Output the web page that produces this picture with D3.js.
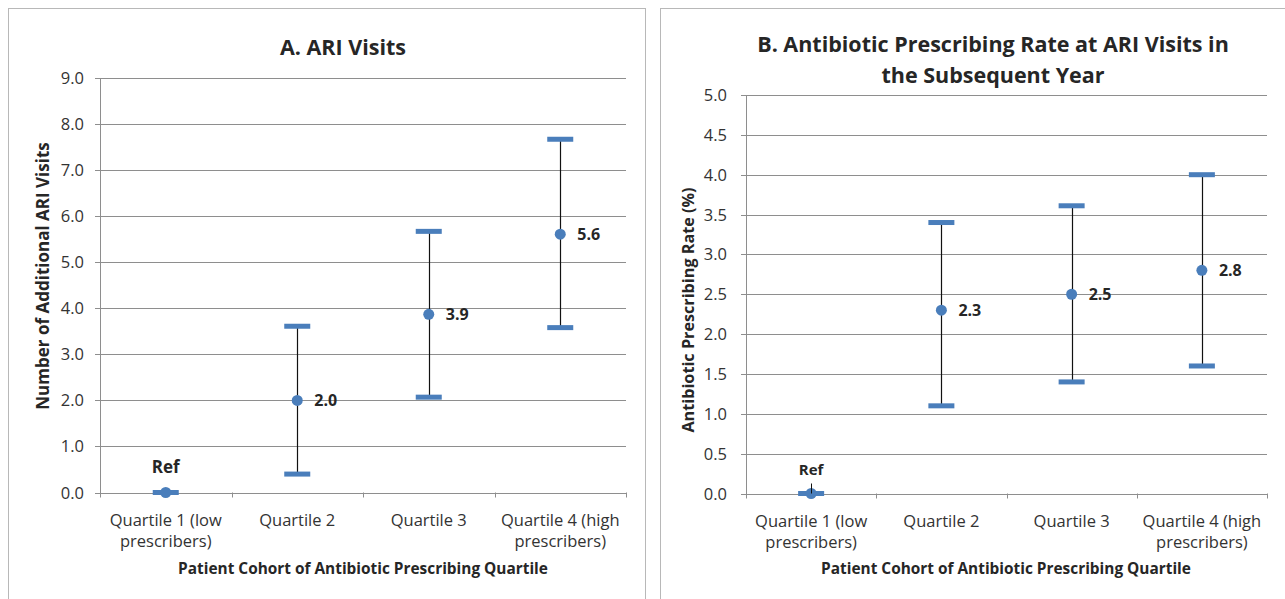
<!DOCTYPE html>
<html>
<head>
<meta charset="utf-8">
<script src="https://cdn.jsdelivr.net/npm/d3@7"></script>
<style>
  body { margin: 0; background: #fff; }
  svg text { font-family: "Open Sans", sans-serif; fill: #262626; }
</style>
</head>
<body>
<svg id="chart" width="1285" height="599"></svg>
<script>
// quartile categories (tick labels broken in two lines like the original)
var categoryLines = [
    ["Quartile 1 (low", "prescribers)"],
    ["Quartile 2"],
    ["Quartile 3"],
    ["Quartile 4 (high", "prescribers)"]
];
var categories = ["Q1", "Q2", "Q3", "Q4"];

// A. additional ARI visits
var visitsEst = [0, 2.0, 3.87, 5.61],
    visitsLow = [0, 0.4, 2.07, 3.58],
    visitsHigh = [0, 3.61, 5.67, 7.67],
    visitsLabels = ["Ref", "2.0", "3.9", "5.6"],
    visitsTicks = [0, 1, 2, 3, 4, 5, 6, 7, 8, 9];

// B. antibiotic prescribing rate (%)
var rateEst = [0, 2.3, 2.5, 2.8],
    rateLow = [0, 1.1, 1.4, 1.6],
    rateHigh = [0, 3.4, 3.61, 4.0],
    rateLabels = ["Ref", "2.3", "2.5", "2.8"],
    rateTicks = [0, 0.5, 1, 1.5, 2, 2.5, 3, 3.5, 4, 4.5, 5];

var blue = "#4a7ebb",
    gridColor = "#8e8e8e";

var svg = d3.select("#chart");

function drawPanel(opts) {
    var g = svg.append("g");

    // panel frame
    g.append("rect")
        .attr("x", opts.frame[0] + 0.5)
        .attr("y", opts.frame[1] + 0.5)
        .attr("width", opts.frame[2])
        .attr("height", 700)
        .attr("fill", "none")
        .attr("stroke", "#b8b8b8");

    var x = d3.scaleBand()
        .domain(categories)
        .range([opts.left, opts.right]);

    var y = d3.scaleLinear()
        .domain([0, opts.max])
        .range([opts.bottom, opts.top]);

    // grid lines
    g.append("g")
        .selectAll("line")
        .data(opts.ticks)
        .enter()
        .append("line")
            .attr("x1", opts.left - 5)
            .attr("x2", opts.right)
            .attr("y1", function(d) { return Math.round(y(d)) + 0.5; })
            .attr("y2", function(d) { return Math.round(y(d)) + 0.5; })
            .attr("stroke", gridColor);

    // y axis line
    g.append("line")
        .attr("x1", opts.left + 0.5).attr("x2", opts.left + 0.5)
        .attr("y1", opts.top).attr("y2", opts.bottom + 5)
        .attr("stroke", gridColor);

    // y tick labels
    g.append("g")
        .selectAll("text")
        .data(opts.ticks)
        .enter()
        .append("text")
            .attr("x", opts.left - opts.tickGap)
            .attr("y", function(d) { return y(d) + 6; })
            .attr("text-anchor", "end")
            .style("font-size", "16.5px")
            .style("fill", "#333")
            .text(function(d) { return d.toFixed(1); });

    // x category boundary ticks
    var bounds = categories.map(function(c) { return x(c); }).concat([opts.right]);
    g.append("g")
        .selectAll("line")
        .data(bounds.slice(1))
        .enter()
        .append("line")
            .attr("x1", function(d) { return Math.round(d) + 0.5; })
            .attr("x2", function(d) { return Math.round(d) + 0.5; })
            .attr("y1", opts.bottom)
            .attr("y2", opts.bottom + 5)
            .attr("stroke", gridColor);

    // x tick labels
    var xLabels = g.append("g")
        .selectAll("text")
        .data(categoryLines)
        .enter()
        .append("text")
            .attr("text-anchor", "middle")
            .style("font-size", "16.5px")
            .style("fill", "#333");
    xLabels.each(function(lines, i) {
        var cx = x(categories[i]) + x.bandwidth() / 2;
        d3.select(this).selectAll("tspan")
            .data(lines)
            .enter()
            .append("tspan")
                .attr("x", cx)
                .attr("y", function(d, j) { return opts.bottom + 33 + j * 21; })
                .text(function(d) { return d; });
    });

    var cx = function(i) { return x(categories[i]) + x.bandwidth() / 2; };
    var idx = d3.range(categories.length);

    // error bars
    g.append("g")
        .selectAll("line")
        .data(idx.filter(function(i) { return opts.high[i] > opts.low[i]; }))
        .enter()
        .append("line")
            .attr("x1", function(i) { return Math.round(cx(i)) + 0.5; })
            .attr("x2", function(i) { return Math.round(cx(i)) + 0.5; })
            .attr("y1", function(i) { return y(opts.low[i]); })
            .attr("y2", function(i) { return y(opts.high[i]); })
            .attr("stroke", "#111")
            .attr("stroke-width", 1.2);

    // caps
    var caps = [];
    idx.forEach(function(i) {
        caps.push({ i: i, v: opts.low[i] });
        if (opts.high[i] !== opts.low[i]) caps.push({ i: i, v: opts.high[i] });
    });
    g.append("g")
        .selectAll("rect")
        .data(caps)
        .enter()
        .append("rect")
            .attr("x", function(d) { return cx(d.i) - 13; })
            .attr("y", function(d) { return y(d.v) - 2.5; })
            .attr("width", 26)
            .attr("height", 5)
            .attr("fill", blue);

    // estimate markers
    g.append("g")
        .selectAll("circle")
        .data(idx)
        .enter()
        .append("circle")
            .attr("cx", cx)
            .attr("cy", function(i) { return y(opts.est[i]); })
            .attr("r", 5.5)
            .attr("fill", blue);

    // data labels
    g.append("g")
        .selectAll("text")
        .data(idx)
        .enter()
        .append("text")
            .attr("x", function(i) { return i === 0 ? cx(i) : cx(i) + 17; })
            .attr("y", function(i) { return i === 0 ? y(opts.est[i]) - opts.refOffset : y(opts.est[i]) + 6; })
            .attr("text-anchor", function(i) { return i === 0 ? "middle" : "start"; })
            .style("font-size", function(i) { return i === 0 ? opts.refSize : "16px"; })
            .style("font-weight", "bold")
            .text(function(i) { return opts.labels[i]; });

    // leader line for the Ref label
    if (opts.leader) {
        g.append("line")
            .attr("x1", Math.round(cx(0)) + 0.5).attr("x2", Math.round(cx(0)) + 0.5)
            .attr("y1", y(opts.est[0]) - 10).attr("y2", y(opts.est[0]))
            .attr("stroke", "#111");
    }

    // titles
    var title = g.append("text")
        .attr("text-anchor", "middle")
        .style("font-size", "21.5px")
        .style("font-weight", "bold");
    title.selectAll("tspan")
        .data(opts.title)
        .enter()
        .append("tspan")
            .attr("x", opts.titleX)
            .attr("y", function(d, j) { return opts.titleY + j * 31; })
            .text(function(d) { return d; });

    g.append("text")
        .attr("transform", "translate(" + opts.yTitleX + "," + opts.yTitleY + ") rotate(-90)")
        .attr("text-anchor", "middle")
        .style("font-size", opts.yTitleSize)
        .style("font-weight", "bold")
        .text(opts.yTitle);

    g.append("text")
        .attr("x", opts.xTitleX)
        .attr("y", 574)
        .attr("text-anchor", "middle")
        .style("font-size", "15.4px")
        .style("font-weight", "bold")
        .text("Patient Cohort of Antibiotic Prescribing Quartile");
}

drawPanel({
    frame: [8, 8, 637],
    left: 100, right: 626, top: 78, bottom: 492.5,
    max: 9, ticks: visitsTicks, tickGap: 16,
    est: visitsEst, low: visitsLow, high: visitsHigh, labels: visitsLabels,
    refOffset: 20, refSize: "17px", leader: false,
    title: ["A. ARI Visits"], titleX: 343, titleY: 55,
    yTitle: "Number of Additional ARI Visits", yTitleX: 49, yTitleY: 276, yTitleSize: "17px",
    xTitleX: 363
});

drawPanel({
    frame: [660, 8, 700],
    left: 746, right: 1267, top: 95, bottom: 493.5,
    max: 5, ticks: rateTicks, tickGap: 19,
    est: rateEst, low: rateLow, high: rateHigh, labels: rateLabels,
    refOffset: 19, refSize: "15px", leader: true,
    title: ["B. Antibiotic Prescribing Rate at ARI Visits in", "the Subsequent Year"], titleX: 993, titleY: 52,
    yTitle: "Antibiotic Prescribing Rate (%)", yTitleX: 694, yTitleY: 310, yTitleSize: "16.2px",
    xTitleX: 1006
});
</script>
</body>
</html>
